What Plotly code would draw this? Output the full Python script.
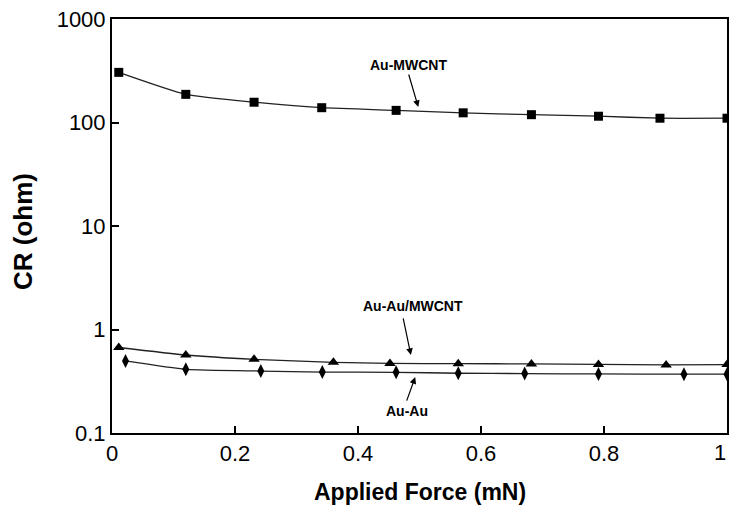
import plotly.graph_objects as go

# Data
force_mwcnt = [0.011, 0.12, 0.231, 0.341, 0.462, 0.571, 0.682, 0.791, 0.891, 1.0]
cr_mwcnt = [305, 187, 157, 139, 131, 124, 119, 115, 110, 110]

force_aumw = [0.011, 0.12, 0.231, 0.36, 0.452, 0.563, 0.682, 0.791, 0.901, 1.0]
cr_aumw = [0.67, 0.567, 0.515, 0.482, 0.47, 0.468, 0.465, 0.46, 0.455, 0.458]

force_auau = [0.022, 0.12, 0.242, 0.342, 0.462, 0.563, 0.671, 0.791, 0.93, 1.0]
cr_auau = [0.497, 0.412, 0.397, 0.388, 0.386, 0.378, 0.375, 0.372, 0.37, 0.37]

x_ticks = [0, 0.2, 0.4, 0.6, 0.8, 1]
x_ticklabels = ["0", "0.2", "0.4", "0.6", "0.8", "1"]
y_ticks = [0.1, 1, 10, 100, 1000]
y_ticklabels = ["0.1", "1", "10", "100", "1000"]

REG = "Liberation Sans, Arial"

fig = go.Figure()
line_style = dict(color="#222222", width=1.3, shape="spline", smoothing=0.5)
fig.add_trace(go.Scatter(x=force_mwcnt, y=cr_mwcnt, mode="lines+markers",
                         line=line_style,
                         marker=dict(symbol="square", size=9, color="black"),
                         name="Au-MWCNT"))
fig.add_trace(go.Scatter(x=force_aumw, y=cr_aumw, mode="lines+markers",
                         line=line_style,
                         marker=dict(symbol="triangle-up", size=10, color="black"),
                         name="Au-Au/MWCNT"))
fig.add_trace(go.Scatter(x=force_auau, y=cr_auau, mode="lines+markers",
                         line=line_style,
                         marker=dict(symbol="diamond-tall", size=10, color="black"),
                         name="Au-Au"))

ann_font = dict(family=REG, size=14, color="black")
# labels (text only)
fig.add_annotation(x=0.482, y=2.556, text="<b>Au-MWCNT</b>", showarrow=False, font=ann_font)
fig.add_annotation(x=0.49, y=0.227, text="<b>Au-Au/MWCNT</b>", showarrow=False, font=ann_font)
fig.add_annotation(x=0.48, y=-0.787, text="<b>Au-Au</b>", showarrow=False, font=ann_font)
# arrows (tip at data point, tail offset in pixels)
arrow = dict(showarrow=True, text="", arrowhead=2, arrowsize=1.1, arrowwidth=1.2,
             arrowcolor="black", axref="pixel", ayref="pixel")
fig.add_annotation(x=0.498, y=2.15, ax=-10, ay=-34, **arrow)
fig.add_annotation(x=0.486, y=-0.246, ax=-8, ay=-38, **arrow)
fig.add_annotation(x=0.493, y=-0.46, ax=-9, ay=25, **arrow)

# last x tick label placed so that it stays inside the page
fig.add_annotation(xref="paper", yref="paper", x=1.0, y=-0.0483,
                   xanchor="right", yanchor="middle", xshift=1,
                   text=x_ticklabels[-1], showarrow=False,
                   font=dict(size=22, family=REG, color="black"))

# axis titles
fig.add_annotation(xref="paper", yref="paper", x=0.5, y=-0.1425, yanchor="middle",
                   text="<b>Applied Force (mN)</b>", showarrow=False,
                   font=dict(size=23, family=REG, color="black"))
fig.add_annotation(xref="paper", yref="paper", x=-0.1447, y=0.4855,
                   xanchor="center", yanchor="middle", textangle=-90,
                   text="<b>CR (ohm)</b>", showarrow=False,
                   font=dict(size=26, family=REG, color="black"))

fig.update_layout(
    width=730, height=514,
    margin=dict(l=112, r=3, t=19, b=81),
    paper_bgcolor="white", plot_bgcolor="white",
    showlegend=False,
    font=dict(family=REG, color="black"),
)
fig.update_xaxes(range=[0, 1], tickvals=x_ticks,
                 ticktext=x_ticklabels[:-1] + [""],
                 ticks="inside", ticklen=7, tickwidth=1.5, tickcolor="black",
                 showline=True, linecolor="black", linewidth=2, mirror=True,
                 showgrid=False, zeroline=False,
                 automargin=False,
                 tickfont=dict(size=22, family=REG))
fig.update_yaxes(type="log", range=[-1, 3], tickvals=y_ticks, ticktext=y_ticklabels,
                 ticks="inside", ticklen=7, tickwidth=1.5, tickcolor="black",
                 showline=True, linecolor="black", linewidth=2, mirror=True,
                 showgrid=False, zeroline=False, automargin=False,
                 tickfont=dict(size=22, family=REG))

fig.write_html("out.html", config={"displayModeBar": False},
               post_script="document.body.style.margin='0';")
